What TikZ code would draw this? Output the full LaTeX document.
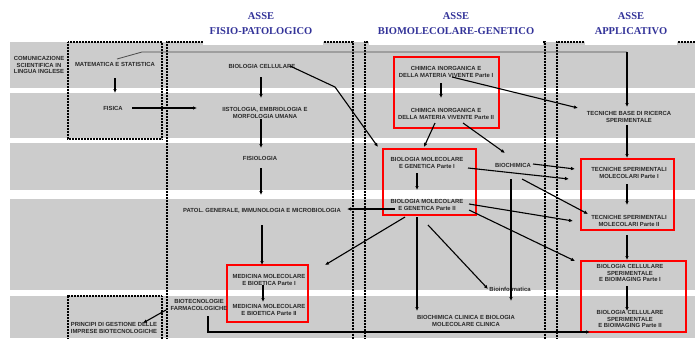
\documentclass[tikz,border=0pt]{standalone}
\usepackage{fontspec}
\setmainfont{Liberation Sans}
\newfontfamily\titlefont{Liberation Serif}
\usetikzlibrary{calc,arrows.meta}
\definecolor{bandgray}{RGB}{204,204,204}
\definecolor{titleblue}{RGB}{51,51,153}
\definecolor{txt}{RGB}{40,40,40}
\tikzset{
  lbl/.style={font=\bfseries\fontsize{5.9}{6.3}\selectfont, align=center, inner sep=0pt, text=txt},
  ttl/.style={font=\titlefont\bfseries\fontsize{10.5}{15}\selectfont, align=center, inner sep=0pt, text=titleblue},
  arr/.style={draw=black, line width=1.1pt, -{Latex[length=4pt,width=3.6pt]}},
  colline/.style={draw=black, line width=2.2pt, dash pattern=on 1pt off 0.5pt},
  redbox/.style={draw=red, line width=1.1pt},
  band/.style={fill=bandgray, draw=none},
  whitebox/.style={fill=white, draw=none}
}
\begin{document}
\begin{tikzpicture}[x=1pt,y=-1pt]
\useasboundingbox (0,0) rectangle (695,338);
% gray bands
\fill[band] (10,42) rectangle (695,88);
\fill[band] (10,93) rectangle (695,138);
\fill[band] (10,143) rectangle (695,190);
\fill[band] (10,199) rectangle (695,290);
\fill[band] (10,296) rectangle (695,338);
% dashed columns
\draw[colline] (68,42) rectangle (162,139);
\draw[colline] (68,340) -- (68,296) -- (162,296) -- (162,340);
\draw[colline] (167,340) -- (167,42) -- (353,42) -- (353,340);
\draw[colline] (365,340) -- (365,42) -- (545,42) -- (545,340);
\draw[colline] (557,340) -- (557,42) -- (697,42);
% title white boxes
\fill[whitebox] (203,0) rectangle (323,45);
\fill[whitebox] (369,0) rectangle (543,45);
\fill[whitebox] (585,0) rectangle (677,45);
% titles
\node[ttl] (t1) at (261,23.5) {ASSE\\FISIO-PATOLOGICO};
\node[ttl] (t2) at (456,23.5) {ASSE\\BIOMOLECOLARE-GENETICO};
\node[ttl] (t3) at (631,23.5) {ASSE\\APPLICATIVO};
% red boxes
\draw[redbox] (394,57) rectangle (499,128);
\draw[redbox] (383,149) rectangle (476,215);
\draw[redbox] (227,265) rectangle (308,322);
\draw[redbox] (581,159) rectangle (674,230);
\draw[redbox] (581,261) rectangle (686,332);
% nodes
\node[lbl] (com) at (39,65) {COMUNICAZIONE\\SCIENTIFICA IN\\LINGUA INGLESE};
\node[lbl] (mat) at (115,64) {MATEMATICA E STATISTICA};
\node[lbl] (fis) at (113,108) {FISICA};
\node[lbl] (bioc) at (262,66) {BIOLOGIA CELLULARE};
\node[lbl] (ist) at (265,113) {IISTOLOGIA, EMBRIOLOGIA E\\MORFOLOGIA UMANA};
\node[lbl] (fisio) at (260,158) {FISIOLOGIA};
\node[lbl] (patol) at (262,211) {PATOL. GENERALE, IMMUNOLOGIA E MICROBIOLOGIA};
\node[lbl] (medI) at (269,280) {MEDICINA MOLECOLARE\\E BIOETICA Parte I};
\node[lbl] (medII) at (269,310) {MEDICINA MOLECOLARE\\E BIOETICA Parte II};
\node[lbl] (biotec) at (199,305) {BIOTECNOLOGIE\\FARMACOLOGICHE};
\node[lbl] (princ) at (114,328) {PRINCIPI DI GESTIONE DELLE\\IMPRESE BIOTECNOLOGICHE};
\node[lbl] (chimI) at (446,72) {CHIMICA INORGANICA E\\DELLA MATERIA VIVENTE Parte I};
\node[lbl] (chimII) at (446,114) {CHIMICA INORGANICA E\\DELLA MATERIA VIVENTE Parte II};
\node[lbl] (bmI) at (427,163) {BIOLOGIA MOLECOLARE\\E GENETICA Parte I};
\node[lbl] (bmII) at (427,205) {BIOLOGIA MOLECOLARE\\E GENETICA Parte II};
\node[lbl] (bioch) at (513,165) {BIOCHIMICA};
\node[lbl] (bioinf) at (510,289) {Bioinformatica};
\node[lbl] (bcc) at (466,321) {BIOCHIMICA CLINICA E BIOLOGIA\\MOLECOLARE CLINICA};
\node[lbl] (tbase) at (629,117) {TECNICHE BASE DI RICERCA\\SPERIMENTALE};
\node[lbl] (tsI) at (629,173) {TECNICHE SPERIMENTALI\\MOLECOLARI Parte I};
\node[lbl] (tsII) at (629,221) {TECNICHE SPERIMENTALI\\MOLECOLARI Parte II};
\node[lbl] (bcsI) at (630,273) {BIOLOGIA CELLULARE\\SPERIMENTALE\\E BIOIMAGING Parte I};
\node[lbl] (bcsII) at (630,319) {BIOLOGIA CELLULARE\\SPERIMENTALE\\E BIOIMAGING Parte II};
% connectors
\coordinate (tcorner) at ($(tbase)+(-2,-65)$);
\draw[draw=black!70, line width=0.8pt] ($(mat)+(2,-5)$) -- ($(mat)+(27,-12)$) -- (tcorner);
\draw[arr] (tcorner) -- ($(tbase)+(-2,-10)$);
\draw[arr] ($(mat)+(0,14)$) -- ($(fis)+(2,-15)$);
\draw[arr] ($(fis)+(19,0)$) -- ($(ist)+(-68,-5)$);
\draw[arr] ($(bioc)+(-1,11)$) -- ($(ist)+(-4,-15)$);
\draw[arr] ($(bioc)+(28,0)$) -- ($(bioc)+(73,21)$) -- ($(bmI)+(-49,-16)$);
\draw[arr] ($(ist)+(-4,6)$) -- ($(fisio)+(1,-10)$);
\draw[arr] ($(fisio)+(1,10)$) -- ($(patol)+(-1,-16)$);
\draw[arr] ($(patol)+(0,14)$) -- ($(medI)+(-7,-15)$);
\draw[arr] ($(medI)+(-6,5)$) -- ($(medII)+(-6,-8)$);
\draw[arr] ($(biotec)+(-33,5)$) -- ($(princ)+(29,-5)$);
\draw[arr] ($(biotec)+(9,11)$) |- ($(bcsII)+(-40,13)$);
\draw[arr] ($(chimI)+(-5,11)$) -- ($(chimII)+(-5,-16)$);
\draw[arr] ($(chimI)+(6,5)$) -- ($(tbase)+(-51,-9)$);
\draw[arr] ($(chimII)+(-11,9)$) -- ($(bmI)+(-3,-16)$);
\draw[arr] ($(chimII)+(17,9)$) -- ($(bioch)+(-8,-12)$);
\draw[arr] ($(bmI)+(-10,10)$) -- ($(bmII)+(-10,-15)$);
\draw[arr] ($(bmII)+(-32,4)$) -- ($(patol)+(85,-2)$);
\draw[arr] ($(bioch)+(20,-1)$) -- ($(tsI)+(-54,-4)$);
\draw[arr] ($(bmI)+(41,5)$) -- ($(tsI)+(-60,6)$);
\draw[arr] ($(bioch)+(9,14)$) -- ($(tsII)+(-41,-7)$);
\draw[arr] ($(bioch)+(-2,14)$) -- ($(bcc)+(45,-20)$);
\draw[arr] ($(bmII)+(42,-1)$) -- ($(tsII)+(-56,0)$);
\draw[arr] ($(bmII)+(42,5)$) -- ($(bcsI)+(-55,-12)$);
\draw[arr] ($(bmII)+(-22,12)$) -- ($(medI)+(56,-15)$);
\draw[arr] ($(bmII)+(-10,12)$) -- ($(bcc)+(-49,-10)$);
\draw[arr] ($(bmII)+(1,20)$) -- ($(bioinf)+(-22,0)$);
\draw[arr] ($(tbase)+(-2,8)$) -- ($(tsI)+(-2,-15)$);
\draw[arr] ($(tsI)+(-2,11)$) -- ($(tsII)+(-2,-16)$);
\draw[arr] ($(tsII)+(-2,14)$) -- ($(bcsI)+(-3,-13)$);
\draw[arr] ($(bcsI)+(-3,13)$) -- ($(bcsII)+(-3,-8)$);
\end{tikzpicture}
\end{document}
